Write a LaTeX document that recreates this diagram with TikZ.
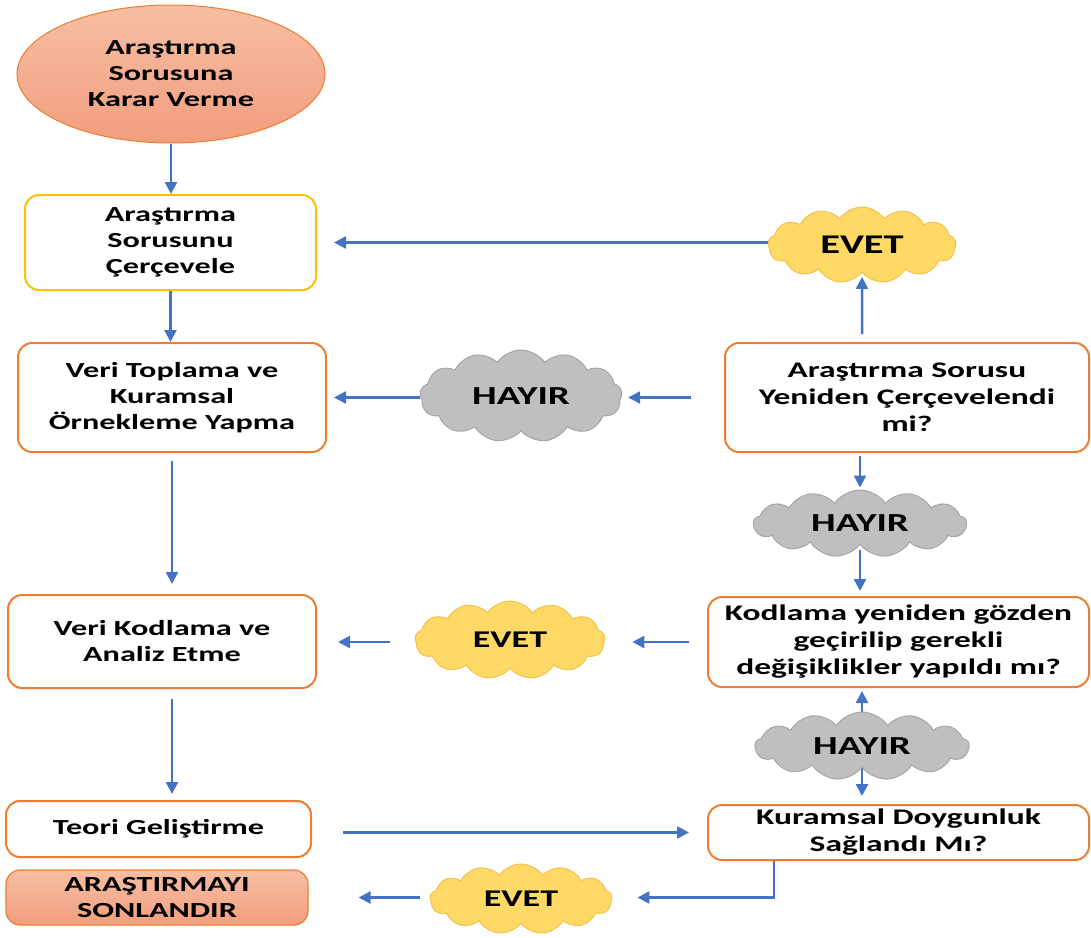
\documentclass[tikz,border=0pt]{standalone}
\usepackage{fontspec}
\newfontfamily\cb{Carlito}[FakeStretch=1.5]
\usetikzlibrary{shapes.symbols,shapes.geometric,arrows.meta,calc}
\pgfdeclarelayer{bg}
\pgfsetlayers{bg,main}
\definecolor{arr}{HTML}{4472C4}
\definecolor{orn}{HTML}{ED7D31}
\definecolor{ylw}{HTML}{FFC000}
\definecolor{salA}{HTML}{F7BEA4}
\definecolor{salB}{HTML}{F29E7E}
\definecolor{cldY}{HTML}{FFD966}
\definecolor{cldYb}{HTML}{F2C14E}
\definecolor{cldG}{HTML}{BFBFBF}
\definecolor{cldGb}{HTML}{A6A6A6}
\tikzset{
  txt/.style={font=\cb\bfseries\fontsize{21.5}{26}\selectfont, align=center, text=black},
  rtxt/.style={font=\cb\bfseries\fontsize{22.3}{27}\selectfont},
  box/.style={txt, draw=orn, line width=2, rounded corners=14, fill=white, inner sep=0},
  salbox/.style={box, top color=salA, bottom color=salB, line width=1.2},
  cld/.style={shape=cloud, cloud puffs=13, cloud puff arc=110, cloud ignores aspect,
     inner sep=0, line width=1, font=\cb\bfseries\fontsize{24}{28}\selectfont},
  ycld/.style={cld, fill=cldY, draw=cldYb},
  gcld/.style={cld, fill=cldG, draw=cldGb, font=\cb\bfseries\fontsize{26}{30}\selectfont},
  conn/.style={draw=arr, line width=2.5, -{Triangle[length=12,width=12]}},
  dconn/.style={draw=arr, line width=2.5, {Triangle[length=12,width=12]}-{Triangle[length=12,width=12]}},
}
\begin{document}
\begin{tikzpicture}[x=1pt,y=-1pt]
\useasboundingbox (0,0) rectangle (1091,937);
% left column
\node[txt, shape=ellipse, draw=orn, line width=1, top color=salA, bottom color=salB,
  minimum width=308, minimum height=138, inner sep=0] (ell) at (171,74) {Araştırma\\Sorusuna\\Karar Verme};
\node[box, draw=ylw, minimum width=291, minimum height=95] (b1) at (170.5,242.5) {Araştırma\\Sorusunu\\Çerçevele};
\node[box, minimum width=308, minimum height=109] (b2) at (172,397.5) {Veri Toplama ve\\Kuramsal\\Örnekleme Yapma};
\node[box, minimum width=308, minimum height=93] (b3) at (162,641.5) {Veri Kodlama ve\\Analiz Etme};
\node[box, minimum width=305, minimum height=56] (b4) at (158.5,829) {Teori Geliştirme};
\node[salbox, minimum width=302, minimum height=55] (end) at (157,897.5) {ARAŞTIRMAYI\\SONLANDIR};
% right column
\node[box, rtxt, minimum width=364, minimum height=109] (q1) at (907,397.5) {Araştırma Sorusu\\Yeniden Çerçevelendi\\mi?};
\node[box, rtxt, minimum width=381, minimum height=90] (q2) at (898.5,642) {Kodlama yeniden gözden\\geçirilip gerekli\\değişiklikler yapıldı mı?};
\node[box, rtxt, minimum width=381, minimum height=55] (q3) at (898.5,832.5) {Kuramsal Doygunluk\\Sağlandı Mı?};
% clouds
\node[ycld, minimum width=188, minimum height=76, font=\cb\bfseries\fontsize{27}{30}\selectfont] (e1) at (862,245) {EVET};
\node[gcld, minimum width=202, minimum height=92] (h2) at (521,396) {HAYIR};
\node[gcld, minimum width=213, minimum height=67] (h1) at (860,523.5) {HAYIR};
\node[ycld, minimum width=190, minimum height=78] (e2) at (510,640) {EVET};
\node[gcld, minimum width=214, minimum height=68] (h3) at (862,746) {HAYIR};
\node[ycld, minimum width=182, minimum height=70] (e3) at (521,899) {EVET};
% connectors
\begin{pgfonlayer}{bg}
\draw[conn] (ell.south) -- (ell.south |- b1.north);
\draw[conn] (b1.south) -- (b1.south |- b2.north);
\draw[conn, shorten <=8, shorten >=10] (b2.south) -- (b2.south |- b3.north);
\draw[conn, shorten <=10, shorten >=6] (b3.south -| b2.south) -- (b2.south |- b4.north);
\draw[conn, shorten <=31, shorten >=18] (b4.east |- q3.west) -- (q3.west);
\draw[conn, shorten >=25] ($(q3.south west)+(67,0)$) |- (e3.east |- end.east);
\draw[conn, shorten <=10, shorten >=50] (e3.west |- end.east) -- (end.east);
\draw[dconn, shorten <=8, shorten >=3] (q3.north -| h3.center) -- (q2.south -| h3.center);
\draw[conn, shorten <=18, shorten >=27] (q2.west) -- (q2.west -| e2.east);
\draw[conn, shorten <=25, shorten >=21] (e2.west |- q2.west) -- (b3.east |- q2.west);
\draw[conn, shorten <=33, shorten >=6] (q1.west) -- (q1.west -| h2.east);
\draw[conn, shorten >=7] (h2.west |- q1.west) -- (b2.east |- q1.west);
\draw[conn, shorten <=3, shorten >=2] (q1.south -| h1.center) -- (h1.north);
\draw[conn, shorten <=5, shorten >=5] (h1.south) -- (h1.south |- q2.north);
\draw[conn, shorten <=8, shorten >=4] (q1.north -| e1.center) -- (e1.south);
\draw[conn, shorten >=17] (e1.west |- b1.east) -- (b1.east);
\end{pgfonlayer}
\end{tikzpicture}
\end{document}
